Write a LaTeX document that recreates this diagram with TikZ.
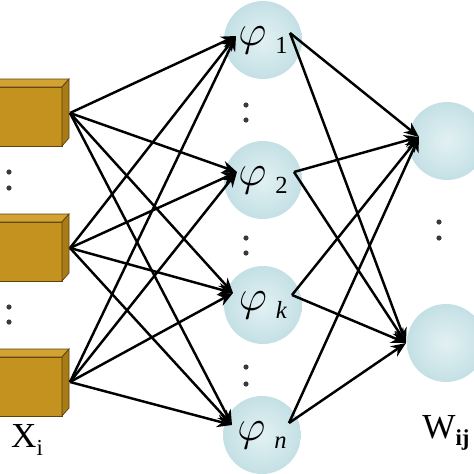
\documentclass[tikz,border=0pt]{standalone}
\usepackage{fontspec}
\setmainfont{Liberation Serif}
\usetikzlibrary{arrows.meta}

\definecolor{goldfront}{HTML}{C4921F}
\definecolor{goldtop}{HTML}{D2A232}
\definecolor{goldside}{HTML}{A97B14}
\definecolor{goldline}{HTML}{5C4210}
\definecolor{ballout}{HTML}{C4E0E5}
\definecolor{ballin}{HTML}{E2F1F3}
\definecolor{dotcol}{HTML}{3A3A3A}

% one gold input box, #1 = top of the front face
\newcommand{\goldbox}[1]{
  \draw[goldline,fill=goldfront] (-10,#1) rectangle (62,{#1+59});
  \draw[goldline,fill=goldtop] (-10,#1) -- (62,#1) -- (69,{#1-8}) -- (-3,{#1-8}) -- cycle;
  \draw[goldline,fill=goldside] (62,#1) -- (69,{#1-8}) -- (69,{#1+51}) -- (62,{#1+59}) -- cycle;
}
\newcommand{\phisym}{\fontsize{23}{23}\selectfont$\varphi$}
\newcommand{\phisub}[1]{\hspace{5pt}\raisebox{-5pt}{\fontsize{14}{14}\selectfont #1}}

\tikzset{
  ball/.style={circle,minimum size=1.56cm,inner sep=0pt,
    inner color=ballin,outer color=ballout},
  link/.style={line width=1.4pt,->},
  dotmark/.style={fill=dotcol}
}

\begin{document}
\begin{tikzpicture}[x=0.02cm,y=-0.02cm,>={Stealth[length=8.5pt,width=7pt]}]
\clip (0,0) rectangle (474,474);

% input boxes
\goldbox{87}
\goldbox{222}
\goldbox{357}
\coordinate (x1) at (70,113);
\coordinate (x2) at (70,248);
\coordinate (x3) at (70,382);

% hidden layer
\node[ball] (h1) at (263,40) {\phisym\phisub{1}};
\node[ball] (h2) at (263,180) {\phisym\phisub{2}};
\node[ball] (h3) at (263,305) {\phisym\phisub{\textit{k}}};
\node[ball] (h4) at (262,435) {\phisym\phisub{\textit{n}}};
\coordinate (h1in) at (236,36);  \coordinate (h1out) at (290,33);
\coordinate (h2in) at (237,172); \coordinate (h2out) at (294,172);
\coordinate (h3in) at (233,293); \coordinate (h3out) at (292,295);
\coordinate (h4in) at (232,425); \coordinate (h4out) at (289,423);

% output layer
\node[ball] (o1) at (447,141) {};
\node[ball] (o2) at (446,343) {};
\coordinate (o1in) at (419,137);
\coordinate (o2in) at (406,343);

\foreach \i in {1,2,3}
  \foreach \j in {1,2,3,4}
    \draw[link] (x\i) -- (h\j in);
\foreach \j in {1,2,3,4}
  \foreach \k in {1,2}
    \draw[link] (h\j out) -- (o\k in);

% dots
\foreach \p in {(9,172),(9,188),(9,307),(9,322),
  (246,105),(246,120),(246,238),(246,253),(246,367),(246,384),
  (439,222),(439,238)}
  \fill[dotmark] \p circle (2.6);

\node (xlab) at (27,440) {\fontsize{20}{20}\selectfont X\raisebox{-4pt}{\fontsize{13}{13}\selectfont i}};
\node (wlab) at (446,433) {\fontsize{20}{20}\selectfont W\raisebox{-4pt}{\fontsize{13}{13}\selectfont\textbf{ij}}};

\end{tikzpicture}
\end{document}
